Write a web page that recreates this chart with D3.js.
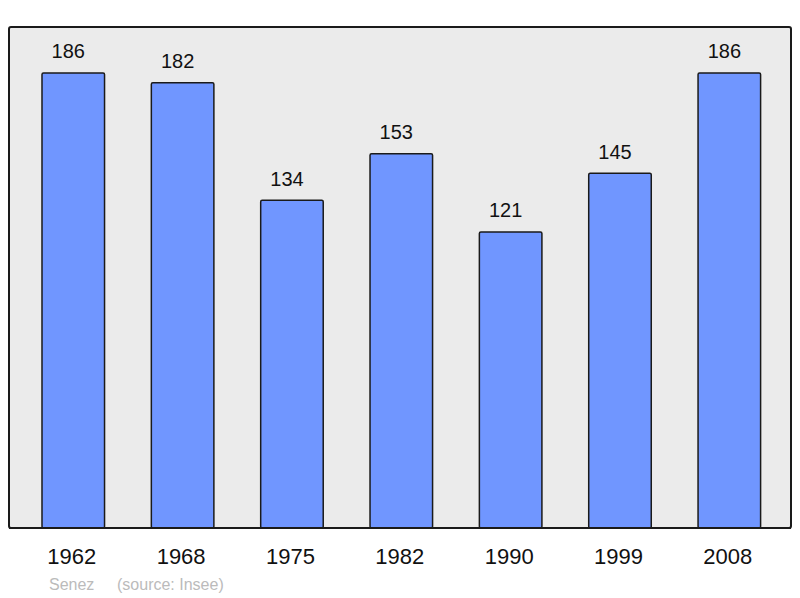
<!DOCTYPE html>
<html><head><meta charset="utf-8">
<script src="https://cdn.jsdelivr.net/npm/d3@7"></script>
<style>html,body{margin:0;padding:0;background:#fff;}svg{display:block;}</style>
</head><body>
<script>
const years = ["1962","1968","1975","1982","1990","1999","2008"];
const population = [186,182,134,153,121,145,186];
const credit = "Senez";
const source = "(source: Insee)";

const W = 800, H = 598;
const svg = d3.select("body").append("svg").attr("width", W).attr("height", H);
const font = "'Liberation Sans', Arial, sans-serif";

const plot = {left: 9, top: 27, right: 791, bottom: 528};
svg.append("rect")
  .attr("x", plot.left).attr("y", plot.top)
  .attr("width", plot.right - plot.left).attr("height", plot.bottom - plot.top)
  .attr("rx", 2).attr("fill", "#ebebeb").attr("stroke", "#1a1a1a").attr("stroke-width", 2);

const x = d3.scaleBand().domain(years).range([18.6, 784]).paddingInner(0.428).paddingOuter(0.214);
const y = d3.scaleLinear().domain([0, 204.8]).range([plot.bottom, plot.top]);

const data = years.map((yr, i) => ({year: yr, value: population[i]}));

svg.append("g").selectAll("rect").data(data).join("rect")
  .attr("x", d => x(d.year)).attr("y", d => y(d.value))
  .attr("width", x.bandwidth()).attr("height", d => y(0) - y(d.value))
  .attr("rx", 1.5)
  .attr("fill", "#7096ff").attr("stroke", "#1a1a1a").attr("stroke-width", 1.5);

svg.append("g").selectAll("text").data(data).join("text")
  .attr("x", d => x(d.year) + x.bandwidth() / 2 - 5).attr("y", d => y(d.value) - 14.5)
  .attr("text-anchor", "middle").attr("font-family", font).attr("font-size", 20)
  .attr("fill", "#111").text(d => d.value);

// redraw bottom border on top of bars
svg.append("line").attr("x1", plot.left).attr("x2", plot.right)
  .attr("y1", plot.bottom).attr("y2", plot.bottom)
  .attr("stroke", "#1a1a1a").attr("stroke-width", 2);

const xAxis = d3.axisBottom(x).tickSize(0).tickPadding(0);
const gx = svg.append("g").attr("transform", `translate(-1.5,${plot.bottom})`).call(xAxis);
gx.select(".domain").remove();
gx.selectAll("text").attr("dy", null).attr("y", 36)
  .attr("font-family", font).attr("font-size", 22).attr("fill", "#111");

svg.append("text").attr("x", 49).attr("y", 590).attr("font-family", font)
  .attr("font-size", 16).attr("fill", "#bbbbbb").text(credit);
svg.append("text").attr("x", 117).attr("y", 590).attr("font-family", font)
  .attr("font-size", 16).attr("fill", "#bbbbbb").text(source);
</script>
</body></html>
